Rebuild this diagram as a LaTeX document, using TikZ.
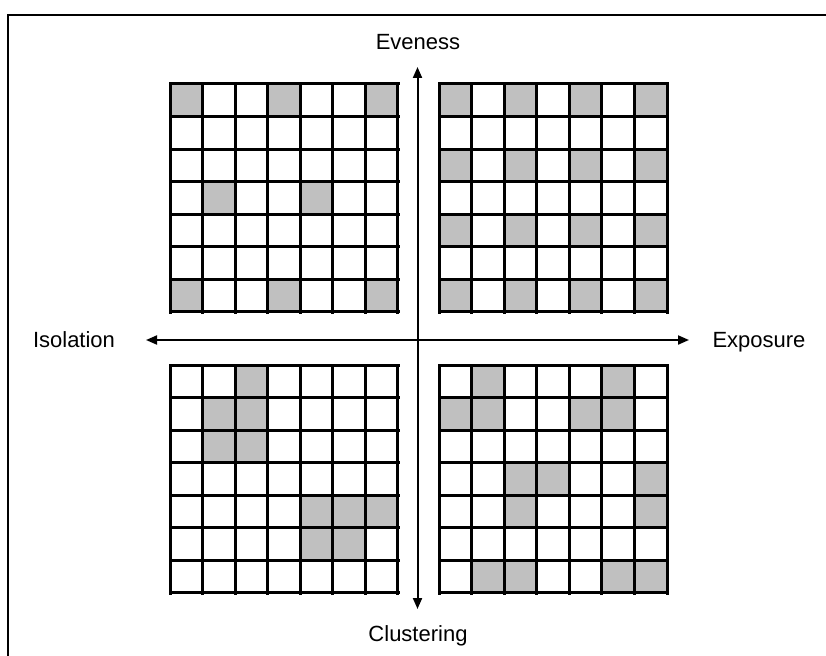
\documentclass[tikz,border=0pt]{standalone}
\usepackage{fontspec}
\setmainfont{Liberation Sans}
\usetikzlibrary{arrows.meta}
\definecolor{cellgray}{HTML}{C0C0C0}
\tikzset{
  axislabel/.style={font=\fontsize{22}{26}\selectfont, inner sep=0pt, anchor=base},
  axisline/.style={line width=2pt, -{Triangle[length=11pt,width=9pt]}},
  gridline/.style={line width=3pt, line cap=rect},
  graycell/.style={fill=cellgray},
}
\newcommand{\cellgrid}[3]{%
  % #1,#2 = top-left corner (px), #3 = list of row/col gray cells
  \foreach \r/\c in {#3} {
    \fill[graycell] ({#1+\c*32.57},{#2+\r*32.57}) rectangle ++(32.57,32.57);
  }
  \foreach \i in {0,...,7} {
    \draw[gridline] ({#1+\i*32.57},#2) -- ({#1+\i*32.57},{#2+228});
    \draw[gridline] (#1,{#2+\i*32.57}) -- ({#1+228},{#2+\i*32.57});
  }
}
\begin{document}
\begin{tikzpicture}[x=1pt,y=-1pt]
\useasboundingbox (0,0) rectangle (826,655);
\begin{scope}
\clip (0,0) rectangle (826,655);
\draw[line width=2pt] (8,15) rectangle (840,670);
\end{scope}

\cellgrid{170}{84}{0/0,0/3,0/6,3/1,3/4,6/0,6/3,6/6}
\cellgrid{439}{84}{0/0,0/2,0/4,0/6,2/0,2/2,2/4,2/6,4/0,4/2,4/4,4/6,6/0,6/2,6/4,6/6}
\cellgrid{170}{365}{0/2,1/1,1/2,2/1,2/2,4/4,4/5,4/6,5/4,5/5}
\cellgrid{439}{365}{0/1,0/5,1/0,1/1,1/4,1/5,3/2,3/3,3/6,4/2,4/6,6/1,6/2,6/5,6/6}

\coordinate (center) at (417.5,340);
\coordinate (top) at (417.5,67);
\coordinate (bottom) at (417.5,609);
\coordinate (left) at (146,340);
\coordinate (right) at (689,340);
\draw[axisline] (center) -- (top);
\draw[axisline] (center) -- (bottom);
\draw[axisline] (center) -- (left);
\draw[axisline] (center) -- (right);

\node[axislabel] (even) at (418,50) {Eveness};
\node[axislabel] (clus) at (418,641) {Clustering};
\node[axislabel] (iso) at (74,347) {Isolation};
\node[axislabel] (expo) at (759,347) {Exposure};
\end{tikzpicture}
\end{document}
